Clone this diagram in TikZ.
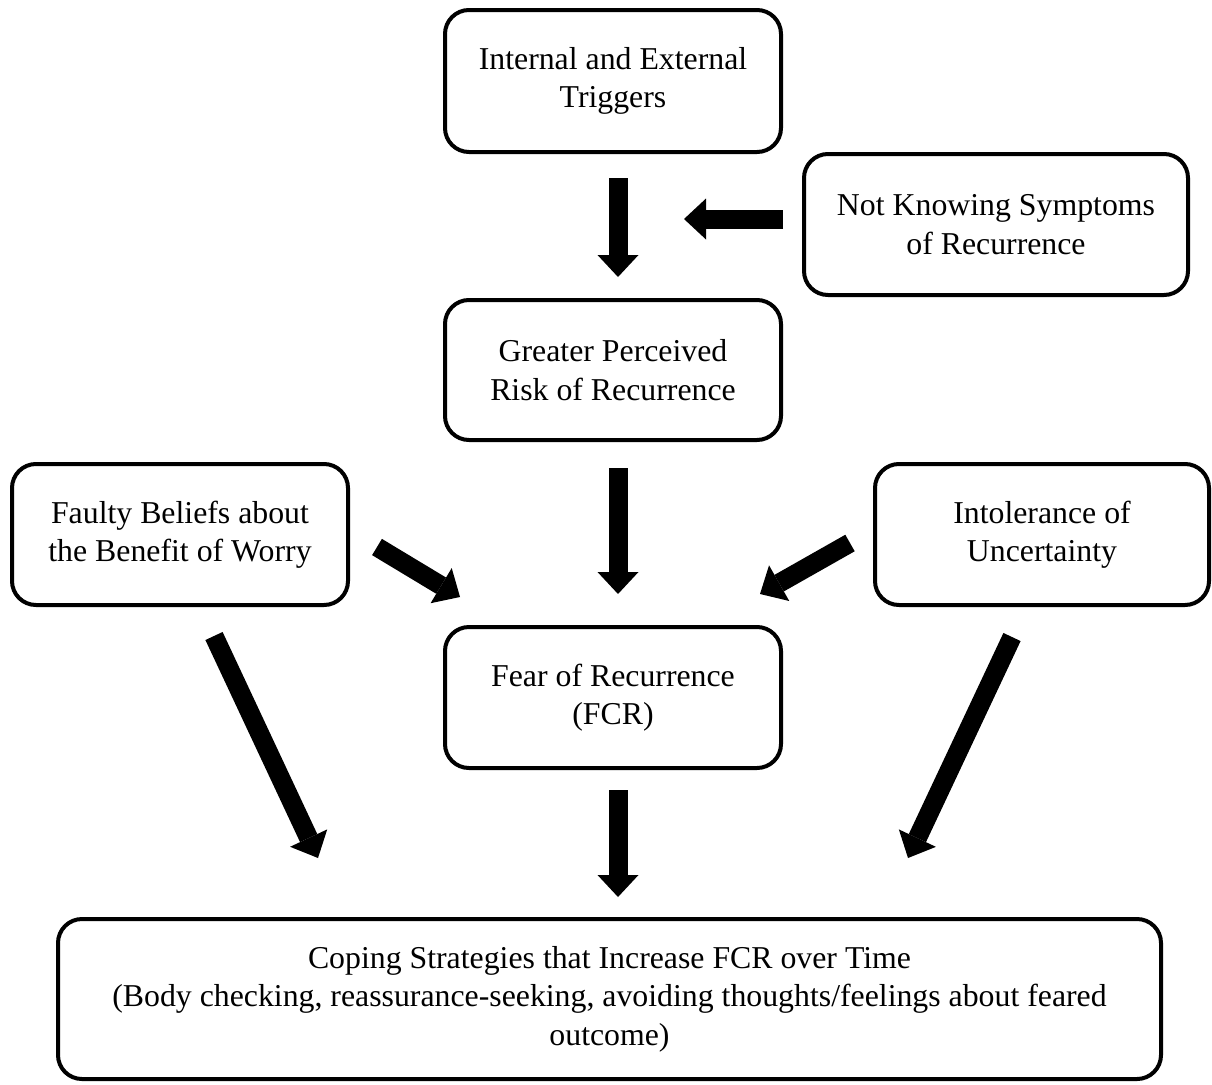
\documentclass[tikz,border=0pt]{standalone}
\usepackage{fontspec}
\setmainfont{Liberation Serif}
\usetikzlibrary{arrows.meta}
\begin{document}
\begin{tikzpicture}[x=1pt,y=-1pt,
  box/.style={draw, line width=4pt, rounded corners=24pt, align=center, inner sep=0pt,
    font=\fontsize{31.8}{38.5}\selectfont},
  fat/.style={line width=19pt, -{Triangle[width=41pt,length=22pt,line width=0pt]}}]
\useasboundingbox (0,0) rectangle (1212,1084);
% boxes
\node[box, minimum width=336pt, minimum height=142pt] (trig) at (613,81) {Internal and External\\Triggers};
\node[box, minimum width=384pt, minimum height=141pt] (notk) at (996,224.5) {Not Knowing Symptoms\\of Recurrence};
\node[box, minimum width=336pt, minimum height=140pt] (gpr) at (613,370) {Greater Perceived\\Risk of Recurrence};
\node[box, minimum width=336pt, minimum height=141pt] (faulty) at (180,534.5) {Faulty Beliefs about\\the Benefit of Worry};
\node[box, minimum width=334pt, minimum height=141pt] (intol) at (1042,534.5) {Intolerance of\\Uncertainty};
\node[box, minimum width=336pt, minimum height=141pt] (fcr) at (613,697.5) {Fear of Recurrence\\(FCR)};
\node[box, minimum width=1103pt, minimum height=160pt] (cope) at (609.5,999) {Coping Strategies that Increase FCR over Time\\(Body checking, reassurance-seeking, avoiding thoughts/feelings about feared\\outcome)};
% arrow end points
\coordinate (a1s) at (618,178);  \coordinate (a1e) at (618,277);
\coordinate (a2s) at (783,219);  \coordinate (a2e) at (684,219);
\coordinate (a3s) at (618,468);  \coordinate (a3e) at (618,594);
\coordinate (a4s) at (377,547);  \coordinate (a4e) at (460,597);
\coordinate (a5s) at (850,543);  \coordinate (a5e) at (760,594);
\coordinate (a6s) at (214,636);  \coordinate (a6e) at (318,858);
\coordinate (a7s) at (618,790);  \coordinate (a7e) at (618,897);
\coordinate (a8s) at (1012,637); \coordinate (a8e) at (908,858);
\foreach \i in {1,...,8} {\draw[fat] (a\i s) -- (a\i e);}
\end{tikzpicture}
\end{document}
